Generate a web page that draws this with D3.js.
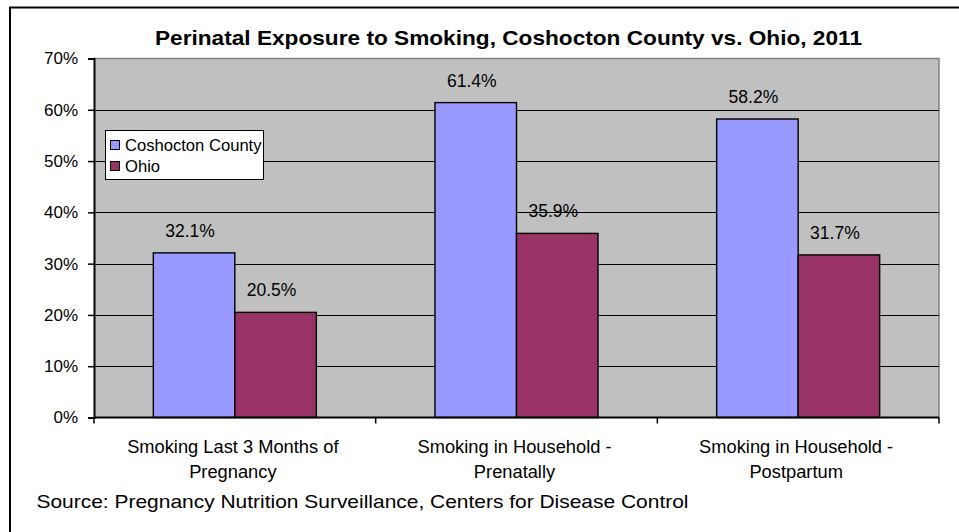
<!DOCTYPE html>
<html><head><meta charset="utf-8">
<script src="https://cdn.jsdelivr.net/npm/d3@7"></script>
<style>
html,body{margin:0;padding:0;background:#fff;}
svg{display:block;font-family:"Liberation Sans",Arial,sans-serif;}
</style></head>
<body>
<svg id="chart" width="959" height="532"></svg>
<script>
const title = "Perinatal Exposure to Smoking, Coshocton County vs. Ohio, 2011";
const categories = ["Smoking Last 3 Months of Pregnancy", "Smoking in Household - Prenatally", "Smoking in Household - Postpartum"];
const categoryLines = [["Smoking Last 3 Months of", "Pregnancy"], ["Smoking in Household -", "Prenatally"], ["Smoking in Household -", "Postpartum"]];
const seriesNames = ["Coshocton County", "Ohio"];
const coshocton = [0.321, 0.614, 0.582];
const ohio = [0.205, 0.359, 0.317];
const yTicks = [0, 0.1, 0.2, 0.3, 0.4, 0.5, 0.6, 0.7];
const colors = ["#9999ff", "#993366"];
const source = "Source: Pregnancy Nutrition Surveillance, Centers for Disease Control";

const svg = d3.select("#chart");
const L = 94, R = 939, T = 58.5, B = 417.5;

svg.append("path").attr("d", `M10,532 L10,7.5 L959,7.5`).attr("fill", "none").attr("stroke", "#000").attr("stroke-width", 2);

const y = d3.scaleLinear().domain([0, 0.7]).range([B, T]);
const x0 = d3.scaleBand().domain(categories).range([L, R]).paddingInner(0).paddingOuter(0);
const x1 = d3.scaleBand().domain(seriesNames).range([0, x0.bandwidth()]).paddingInner(0).paddingOuter(0.728);

svg.append("rect").attr("x", L).attr("y", T).attr("width", R - L).attr("height", B - T).attr("fill", "#c0c0c0");
svg.append("path").attr("d", `M${L},${T} L${R},${T} L${R},${B}`).attr("fill", "none").attr("stroke", "#808080").attr("stroke-width", 1.5);

svg.append("g").selectAll("line").data(yTicks.filter(t => t > 0 && t < 0.7)).join("line")
  .attr("x1", L).attr("x2", R).attr("y1", d => Math.round(y(d)) + 0.5).attr("y2", d => Math.round(y(d)) + 0.5)
  .attr("stroke", "#000").attr("stroke-width", 1);

const data = categories.map((c, i) => ({ c, vals: [coshocton[i], ohio[i]] }));
const groups = svg.append("g").selectAll("g").data(data).join("g")
  .attr("transform", d => `translate(${x0(d.c)},0)`);
groups.selectAll("rect").data(d => d.vals.map((v, j) => ({ v, s: seriesNames[j], j }))).join("rect")
  .attr("x", d => x1(d.s)).attr("y", d => y(d.v)).attr("width", x1.bandwidth()).attr("height", d => B - y(d.v))
  .attr("fill", d => colors[d.j]).attr("stroke", "#000").attr("stroke-width", 1.4);
groups.selectAll("text").data(d => d.vals.map((v, j) => ({ v, s: seriesNames[j], j }))).join("text")
  .attr("x", d => x1(d.s) + x1.bandwidth() / 2 - 4).attr("y", d => y(d.v) - 16)
  .attr("text-anchor", "middle").attr("font-size", 17.5).attr("fill", "#000")
  .text(d => d3.format(".1%")(d.v));

const yAxis = d3.axisLeft(y).tickValues(yTicks).tickFormat(d3.format(".0%")).tickSize(6).tickPadding(10);
const ya = svg.append("g").attr("transform", `translate(${L},0)`).call(yAxis);
ya.select(".domain").attr("stroke", "#000").attr("stroke-width", 2);
ya.selectAll(".tick line").attr("stroke", "#000").attr("stroke-width", 1.5);
ya.selectAll(".tick text").attr("font-size", 17).attr("font-family", "Liberation Sans, Arial, sans-serif").attr("fill", "#000");

const xa = svg.append("g").attr("transform", `translate(0,${B})`);
xa.append("line").attr("x1", L).attr("x2", R).attr("y1", 0).attr("y2", 0).attr("stroke", "#000").attr("stroke-width", 2);
const bounds = categories.map(c => x0(c)).concat([x0(categories[categories.length - 1]) + x0.bandwidth()]);
xa.selectAll("line.tk").data(bounds).join("line").attr("class", "tk")
  .attr("x1", d => d).attr("x2", d => d).attr("y1", 0).attr("y2", 6).attr("stroke", "#000").attr("stroke-width", 1.5);
categories.forEach((c, i) => {
  const t = xa.append("text").attr("x", x0(c) + x0.bandwidth() / 2 - 2).attr("text-anchor", "middle")
    .attr("font-size", 18.3).attr("fill", "#000");
  categoryLines[i].forEach((ln, k) => t.append("tspan").attr("x", x0(c) + x0.bandwidth() / 2 - 2).attr("y", 35.5 + k * 24.5).text(ln));
});

svg.append("text").attr("x", 508.5).attr("y", 45).attr("text-anchor", "middle")
  .attr("font-size", 21).attr("font-weight", "bold").attr("fill", "#000")
  .attr("textLength", 707).attr("lengthAdjust", "spacingAndGlyphs").text(title);

const lg = svg.append("g");
lg.append("rect").attr("x", 105.5).attr("y", 130.5).attr("width", 158).attr("height", 49).attr("fill", "#fff").attr("stroke", "#000").attr("stroke-width", 1);
seriesNames.forEach((s, i) => {
  lg.append("rect").attr("x", 110.5).attr("y", 140.5 + i * 21).attr("width", 9).attr("height", 9)
    .attr("fill", colors[i]).attr("stroke", "#000").attr("stroke-width", 1);
  lg.append("text").attr("x", 125).attr("y", 151 + i * 21).attr("font-size", 16.6).attr("fill", "#000").text(s);
});

svg.append("text").attr("x", 36.5).attr("y", 508).attr("font-size", 19).attr("fill", "#000")
  .attr("textLength", 652).attr("lengthAdjust", "spacingAndGlyphs").text(source);
</script>
</body></html>
